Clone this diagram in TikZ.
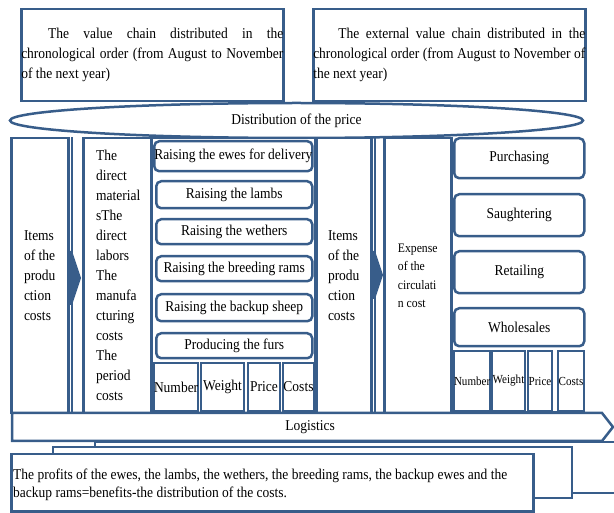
\documentclass[tikz,border=0pt]{standalone}
\usepackage{fontspec}
\setmainfont{Liberation Serif}[FakeStretch=0.9]
\usetikzlibrary{shapes, positioning}
\definecolor{ChainBlue}{RGB}{56, 93, 138}
\tikzset{
    basicbox/.style={
        rectangle, draw=ChainBlue, line width=2.5pt, fill=white,
        inner sep=0pt, anchor=north west, font=\fontsize{15}{20}\selectfont
    },
    chainbox/.style={basicbox, minimum height=92pt, align=justify},
    stagebox/.style={basicbox, rounded corners=5pt, minimum width=156pt},
    cellbox/.style={basicbox, line width=2pt, minimum height=48pt},
    smallcell/.style={cellbox, minimum height=60pt, font=\fontsize{12.3}{15}\selectfont},
    sidebox/.style={basicbox, minimum height=275pt, align=left},
    chainline/.style={draw=ChainBlue, line width=2.5pt},
}

\begin{document}
\begin{tikzpicture}[x=1pt, y=-1pt]
    \useasboundingbox (0,0) rectangle (614,513);
    \hyphenpenalty=10000

    % Value chains
    \node[chainbox, minimum width=261pt, text width=262pt] (chainL) at (20,8) {\hspace*{27pt}The value chain distributed in the\linebreak chronological order (from August to November\linebreak of the next year)};
    \node[chainbox, minimum width=271pt, text width=272pt] (chainR) at (312,8) {\hspace*{25pt}The external value chain distributed in the\linebreak chronological order (from August to November of\linebreak the next year)};

    % Distribution of the price
    \node[ellipse, draw=ChainBlue, line width=2.5pt, fill=white, minimum width=573pt, minimum height=35pt, font=\fontsize{15}{20}\selectfont] (price) at (296.5,120.5) {Distribution of the price};

    % Internal chain: production costs
    \node[sidebox, minimum width=57pt] (itemsL) at (10,137) {Items\\of the\\produ\\ction\\costs};
    \draw[chainline] (72,137) -- (72,412);
    \fill[ChainBlue] (67,251) -- (72,251) -- (81,278) -- (72,305) -- (67,305) -- cycle;
    \node[sidebox, minimum width=70pt] (direct) at (82,137) {The\\direct\\material\\sThe\\direct\\labors\\The\\manufa\\cturing\\costs\\The\\period\\costs};

    \node[basicbox, minimum width=164pt, minimum height=275pt] (stages) at (150,137) {};
    \node[stagebox, minimum width=158pt, minimum height=30pt] (ewes) at (153,140) {Raising the ewes for delivery};
    \node[stagebox, minimum height=27pt] (lambs) at (155,180) {Raising the lambs};
    \node[stagebox, minimum height=25pt] (wethers) at (155,218) {Raising the wethers};
    \node[stagebox, minimum height=25pt] (rams) at (155,255) {Raising the breeding rams};
    \node[stagebox, minimum height=27pt] (backup) at (155,293) {Raising the backup sheep};
    \node[stagebox, minimum height=25pt] (furs) at (155,332) {Producing the furs};
    \node[cellbox, minimum width=44pt] (numberL) at (153,362) {Number};
    \node[cellbox, minimum width=43pt] (weightL) at (200,362) {Weight};
    \node[cellbox, minimum width=32pt] (priceL) at (247,362) {Price};
    \node[cellbox, minimum width=31pt] (costsL) at (282,362) {Costs};

    % External chain: circulation costs
    \node[sidebox, minimum width=55pt] (itemsR) at (315,137) {Items\\of the\\produ\\ction\\costs};
    \draw[chainline] (375,137) -- (375,412);
    \fill[ChainBlue] (370,251) -- (375,251) -- (383,275) -- (375,299) -- (370,299) -- cycle;
    \node[sidebox, minimum width=67pt, font=\fontsize{13}{18.5}\selectfont] (expense) at (383,137) {Expense\\of the\\circulati\\n cost};

    \draw[chainline] (452,137) -- (452,412) -- (583,412);
    \node[stagebox, minimum width=130pt, minimum height=40pt] (purchasing) at (453,137) {Purchasing};
    \node[stagebox, minimum width=130pt, minimum height=42pt] (slaughter) at (453,193) {Saughtering};
    \node[stagebox, minimum width=130pt, minimum height=42pt] (retail) at (453,250) {Retailing};
    \node[stagebox, minimum width=130pt, minimum height=38pt] (wholesale) at (453,307) {Wholesales};
    \node[smallcell, minimum width=36pt] (numberR) at (453,350) {Number};
    \node[smallcell, minimum width=33pt] (weightR) at (491,350) {Weight};
    \node[smallcell, minimum width=24pt] (priceR) at (527,350) {Price};
    \node[smallcell, minimum width=26pt] (costsR) at (557,350) {Costs};

    % Logistics
    \draw[chainline, fill=white] (12,413) -- (602,413) -- (613,427) -- (602,441) -- (12,441) -- cycle;
    \node[font=\fontsize{15}{20}\selectfont] (logistics) at (310,427) {Logistics};

    % Profits
    \draw[chainline, fill=white] (95,442) rectangle (616,493);
    \draw[chainline, fill=white] (53,447) rectangle (572,498);
    \node[basicbox, minimum width=522pt, minimum height=57pt] (profits) at (10,453) {};
    \node[anchor=north west, inner sep=0pt, align=left, font=\fontsize{15}{18}\selectfont] (profitstext) at (13,469) {The profits of the ewes, the lambs, the wethers, the breeding rams, the backup ewes and the\\backup rams=benefits-the distribution of the costs.};
\end{tikzpicture}
\end{document}
